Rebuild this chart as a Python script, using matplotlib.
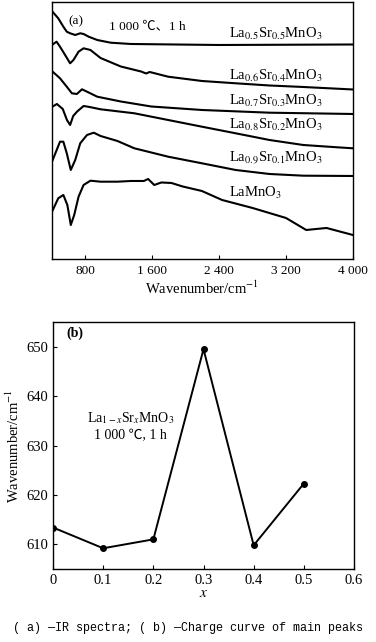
import matplotlib
matplotlib.use("Agg")
import matplotlib.pyplot as plt
import numpy as np

plt.rcParams['font.family'] = ['Liberation Serif', 'Noto Sans CJK SC', 'DejaVu Serif']
plt.rcParams['mathtext.fontset'] = 'stix'

# ---------------- Panel (a): IR spectra (relative transmittance, arbitrary units) ----------------
wn_05 = [400, 476, 537, 578, 618, 679, 739, 779, 840, 942, 1103, 1345, 2400, 4000]
tr_05 = [248, 240.7, 232.3, 227.3, 225.7, 224, 225.7, 225, 222.3, 219, 216.3, 215, 214, 214.5]

wn_04 = [400, 456, 497, 558, 618, 658, 719, 779, 861, 982, 1224, 1466, 1527, 1570,
         1790, 2194, 2598, 3002, 3406, 4000]
tr_04 = [214, 217.3, 212.3, 204, 195.7, 199, 207.3, 210.7, 209, 201, 192.5, 187.5, 185.5, 187,
         182.3, 178, 175.7, 173.5, 172, 169.5]

wn_03 = [400, 497, 578, 639, 699, 760, 820, 942, 1224, 1588, 2194, 3002, 4000]
tr_03 = [188, 180.7, 172.3, 165.7, 165, 169.7, 167.3, 162.3, 157.5, 152.5, 149, 146.3, 145]

wn_02 = [400, 460, 530, 580, 618, 655, 700, 779, 850, 982, 1386, 1790, 2194, 2598,
         3002, 3406, 3810, 4000]
tr_02 = [152, 155, 150, 139, 134, 143, 147.3, 153, 152, 149.7, 145.7, 139, 132.3, 125.7,
         119, 114, 111.7, 110.7]

wn_01 = [400, 497, 537, 578, 626, 679, 739, 820, 901, 982, 1184, 1386, 1790, 2194,
         2598, 3002, 3406, 4000]
tr_01 = [97, 117.3, 117.3, 105.7, 89, 99, 115.7, 124, 126.3, 123, 118, 110.7, 102.3, 95.7,
         89, 85, 83.3, 83]

wn_00 = [400, 476, 537, 585, 626, 667, 719, 779, 861, 982, 1184, 1345, 1500, 1551,
         1624, 1709, 1830, 1964, 2194, 2436, 2800, 3200, 3442, 3685, 4000]
tr_00 = [47, 60.7, 64, 54, 34, 44, 62.3, 74, 78.3, 77.3, 77.3, 78, 78, 80,
         74, 76.5, 76, 72.5, 68, 59, 51, 41, 29, 31, 24]

spec_wn = [wn_05, wn_04, wn_03, wn_02, wn_01, wn_00]
spec_tr = [tr_05, tr_04, tr_03, tr_02, tr_01, tr_00]
spec_labels = [r"La$_{0.5}$Sr$_{0.5}$MnO$_3$", r"La$_{0.6}$Sr$_{0.4}$MnO$_3$",
               r"La$_{0.7}$Sr$_{0.3}$MnO$_3$", r"La$_{0.8}$Sr$_{0.2}$MnO$_3$",
               r"La$_{0.9}$Sr$_{0.1}$MnO$_3$", r"LaMnO$_3$"]

a_xticks = [800, 1600, 2400, 3200, 4000]
a_xticklabels = ["800", "1 600", "2 400", "3 200", "4 000"]

# ---------------- Panel (b): main peak position vs x ----------------
x_vals = [0.0, 0.1, 0.2, 0.3, 0.4, 0.5]
peak_wn = [613.4, 609.2, 611.0, 649.5, 609.8, 622.3]

b_xticks = [0, 0.1, 0.2, 0.3, 0.4, 0.5, 0.6]
b_xticklabels = ["0", "0.1", "0.2", "0.3", "0.4", "0.5", "0.6"]
b_yticks = [610, 620, 630, 640, 650]

fig = plt.figure(figsize=(3.76, 6.42), dpi=100)

# Panel (a)
axa = fig.add_axes([0.138, 0.5966, 0.8005, 0.4003])
for w, t in zip(spec_wn, spec_tr):
    axa.plot(w, t, color='black', lw=1.5, solid_joinstyle='round')
axa.set_xlim(400, 4000)
axa.set_ylim(0, 257)
axa.set_yticks([])
axa.set_xticks(a_xticks)
axa.set_xticklabels(a_xticklabels, fontsize=9.5)
axa.tick_params(axis='x', direction='in', length=3, width=0.8, pad=4)
axa.set_xlabel("Wavenumber/cm$^{-1}$", fontsize=10.5, labelpad=2)
for s in axa.spines.values():
    s.set_linewidth(1.0)

label_y = [225, 183, 158, 134, 101, 66]
for lab, ly in zip(spec_labels, label_y):
    axa.text(2520, ly, lab, fontsize=10.5, va='center', ha='left')
axa.text(0.055, 0.925, "(a)", transform=axa.transAxes, fontsize=9.5, va='center')
axa.text(0.19, 0.905, "1 000 ℃、1 h", transform=axa.transAxes, fontsize=9.5, va='center')

# Panel (b)
axb = fig.add_axes([0.141, 0.1137, 0.8005, 0.3847])
axb.plot(x_vals, peak_wn, color='black', lw=1.4, marker='o', ms=4)
axb.set_xlim(0, 0.6)
axb.set_ylim(605, 655)
axb.set_xticks(b_xticks)
axb.set_xticklabels(b_xticklabels, fontsize=10.5)
axb.set_yticks(b_yticks)
axb.set_yticklabels([str(v) for v in b_yticks], fontsize=10.5)
axb.tick_params(direction='in', length=3, width=0.8)
axb.set_xlabel("$x$", fontsize=11, labelpad=0)
axb.set_ylabel("Wavenumber/cm$^{-1}$", fontsize=10.5, labelpad=3)
for s in axb.spines.values():
    s.set_linewidth(1.0)
axb.text(0.045, 0.955, "(b)", transform=axb.transAxes, fontsize=10, fontweight='bold', va='center')
axb.text(0.155, 635.6, r"La$_{1-x}$Sr$_x$MnO$_3$", fontsize=10, ha='center', va='center')
axb.text(0.155, 631.9, "1 000 ℃, 1 h", fontsize=10, ha='center', va='center')

fig.text(0.5, (642 - 628) / 642, "( a) —IR spectra; ( b) —Charge curve of main peaks",
         fontsize=8.5, ha='center', va='center', family=['Liberation Mono', 'DejaVu Sans Mono'])

fig.savefig("out.png", dpi=100)
